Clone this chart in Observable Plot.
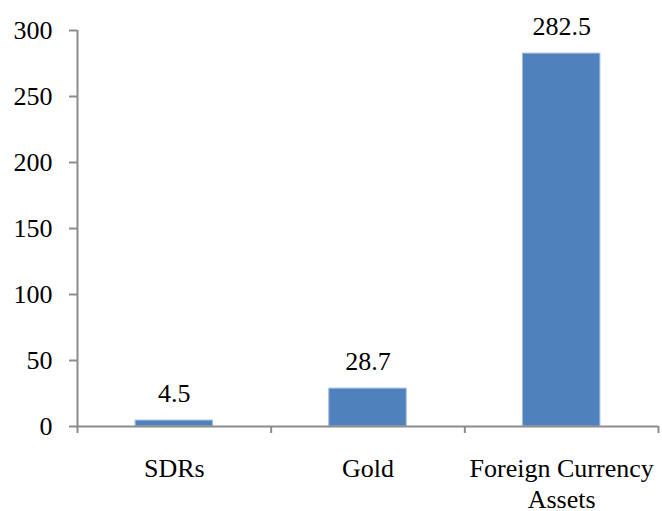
<!DOCTYPE html>
<html>
<head>
<meta charset="utf-8">
<script src="https://cdn.jsdelivr.net/npm/d3@7"></script>
<script src="https://cdn.jsdelivr.net/npm/@observablehq/plot@0.6"></script>
<style>
  html, body { margin: 0; padding: 0; background: #fff; }
  #chart svg { display: block; }
</style>
</head>
<body>
<div id="chart"></div>
<script>
// Reserve components (billions)
const categories = ["SDRs", "Gold", "Foreign Currency\nAssets"];
const values = [4.5, 28.7, 282.5];
const yTicks = [0, 50, 100, 150, 200, 250, 300];

// Each category occupies one unit slot on the x axis: slot i spans [i, i + 1]
const data = categories.map((name, i) => ({name, i, value: values[i]}));
const slotEdges = d3.range(categories.length + 1);

const axisColor = "#8c8c8c";
const serif = "Liberation Serif, DejaVu Serif, serif";

const chart = Plot.plot({
  width: 662,
  height: 511,
  marginLeft: 77,
  marginRight: 4,
  marginTop: 30,
  marginBottom: 85,
  style: {fontSize: "26px", color: "#000", background: "#fff"},
  x: {domain: [0, categories.length]},
  y: {domain: [0, 300]},
  marks: [
    // bars centred in their slots
    Plot.rectY(data, {
      x1: d => d.i + 0.3,
      x2: d => d.i + 0.7,
      y: "value",
      fill: "#4f81bd",
      stroke: "#a3bce0",
      strokeWidth: 1,
      inset: 0
    }),
    // value labels above the bars
    Plot.text(data, {
      x: d => d.i + 0.5,
      y: "value",
      text: d => d.value.toFixed(1),
      dy: -27,
      fill: "#000",
      fontSize: 26
    }),
    // vertical axis line and baseline
    Plot.ruleX([0], {stroke: axisColor, strokeWidth: 2}),
    Plot.ruleY([0], {stroke: axisColor, strokeWidth: 2}),
    // left axis
    Plot.axisY({
      ticks: yTicks,
      tickSize: 8,
      tickPadding: 17,
      stroke: axisColor,
      strokeWidth: 2,
      fill: "#000",
      fontSize: 26,
      label: null
    }),
    // category boundary ticks below the baseline
    Plot.axisX({
      ticks: slotEdges,
      tickSize: 7,
      tickFormat: () => "",
      stroke: axisColor,
      strokeWidth: 2,
      label: null
    }),
    // category labels
    Plot.text(data, {
      x: d => d.i + 0.5,
      y: 0,
      text: "name",
      lineAnchor: "top",
      dy: 29,
      lineHeight: 1.17,
      fill: "#000",
      fontSize: 26
    })
  ]
});

// serif typeface for every label
chart.setAttribute("font-family", serif);
chart.style.fontFamily = serif;
d3.select(chart).selectAll("text, g").style("font-family", serif);

document.getElementById("chart").appendChild(chart);
</script>
</body>
</html>
